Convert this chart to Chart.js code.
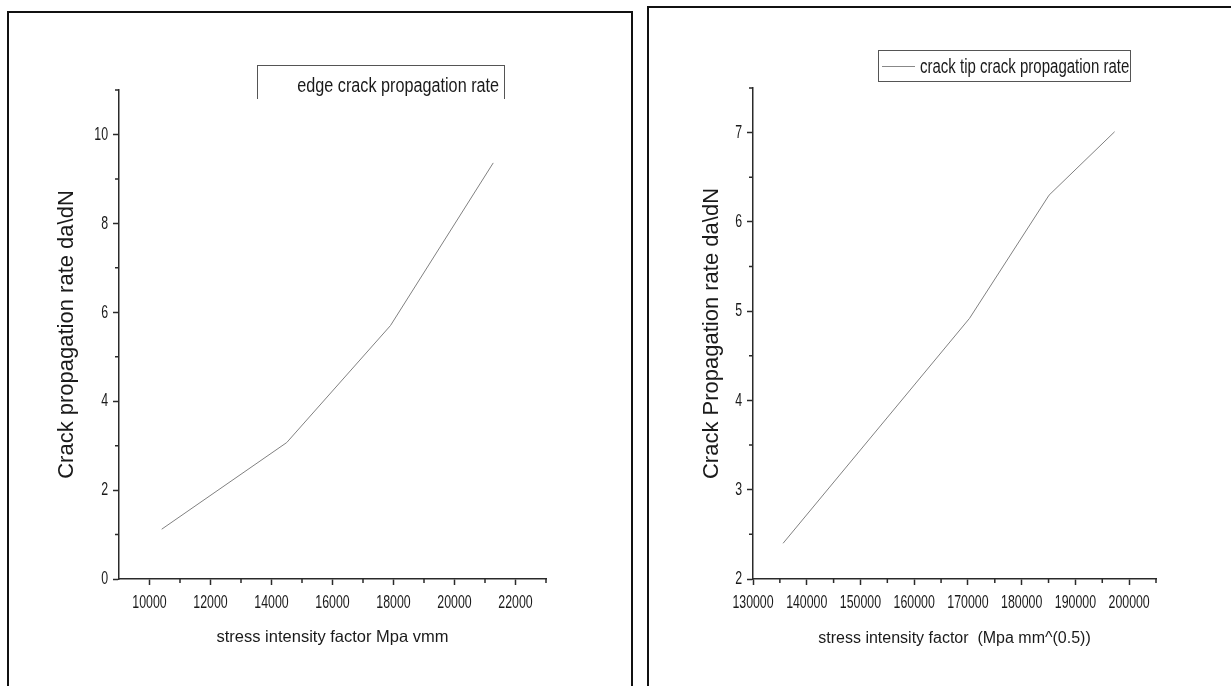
<!DOCTYPE html>
<html>
<head>
<meta charset="utf-8">
<script src="https://cdn.jsdelivr.net/npm/chart.js@4.4.1/dist/chart.umd.min.js"></script>
<style>
  html, body { margin: 0; padding: 0; background: #fff; overflow: hidden; }
  body { width: 1231px; height: 686px; position: relative; font-family: 'Liberation Sans', Arial, sans-serif; }
  .frame { position: absolute; box-sizing: border-box; border: 2px solid #111; border-bottom: none; }
  .wrap { position: absolute; top: 0; height: 686px; }
  .legend { position: absolute; box-sizing: border-box; border: 1px solid #555; color: #1a1a1a;
            font-family: 'Liberation Sans', Arial, sans-serif; font-size: 20px; white-space: nowrap; }
  .legend .sample { position: absolute; height: 0; border-top: 1px solid #888; }
  .legend .txt { position: absolute; line-height: 20px; }
</style>
</head>
<body>
<div class="frame" style="left:7px; top:11px; width:626px; height:700px;"></div>
<div class="frame" style="left:647px; top:6px; width:700px; height:700px;"></div>

<div class="wrap" style="left:0; width:640px;"><canvas id="edgeChart"></canvas></div>
<div class="wrap" style="left:640px; width:591px;"><canvas id="tipChart"></canvas></div>

<div class="legend" style="left:257px; top:65px; width:248px; height:34px; border-bottom:none;">
  <span class="txt" style="right:5px; top:9px; transform:scaleX(0.81); transform-origin:right center;">edge crack propagation rate</span>
</div>
<div class="legend" style="left:878px; top:50px; width:253px; height:32px;">
  <span class="sample" style="left:3px; width:33px; top:15px;"></span>
  <span class="txt" style="left:41px; top:5px; transform:scaleX(0.75); transform-origin:left center;">crack tip crack propagation rate</span>
</div>

<script>
// edge crack (left panel)
const edgeK = [10400, 14500, 17900, 21270];
const edgeRate = [1.12, 3.07, 5.7, 9.36];
const edgeXTicks = [10000, 12000, 14000, 16000, 18000, 20000, 22000];
const edgeXMinor = [11000, 13000, 15000, 17000, 19000, 21000, 23000];
const edgeYTicks = [0, 2, 4, 6, 8, 10];
const edgeYMinor = [1, 3, 5, 7, 9, 11];

// crack tip (right panel)
const tipK = [135600, 170300, 185100, 197300];
const tipRate = [2.40, 4.92, 6.30, 7.01];
const tipXTicks = [130000, 140000, 150000, 160000, 170000, 180000, 190000, 200000];
const tipXMinor = [135000, 145000, 155000, 165000, 175000, 185000, 195000, 205000];
const tipYTicks = [2, 3, 4, 5, 6, 7];
const tipYMinor = [2.5, 3.5, 4.5, 5.5, 6.5, 7.5];

const axisColor = '#2a2a2a';
const textColor = '#1a1a1a';
const regular = "'Liberation Sans', Arial, sans-serif";

// tick labels are drawn condensed (like the original), minor ticks short;
// both placed through the chart's own scales
function axisDecor(xs, ys) {
    return {
        id: 'axisDecor',
        afterDraw(chart) {
            const ctx = chart.ctx;
            const sx = chart.scales.x, sy = chart.scales.y;
            ctx.save();
            ctx.strokeStyle = axisColor;
            ctx.lineWidth = 1.5;
            ctx.beginPath();
            xs.forEach(v => {
                const px = sx.getPixelForValue(v);
                ctx.moveTo(px, sx.top);
                ctx.lineTo(px, sx.top + 4);
            });
            ys.forEach(v => {
                const py = sy.getPixelForValue(v);
                ctx.moveTo(sy.right, py);
                ctx.lineTo(sy.right - 4, py);
            });
            ctx.stroke();

            ctx.fillStyle = textColor;
            ctx.font = '19px ' + regular;
            ctx.textBaseline = 'middle';
            sx.ticks.forEach(t => {
                ctx.save();
                ctx.translate(sx.getPixelForValue(t.value), sx.top + 23.5);
                ctx.scale(0.65, 1);
                ctx.textAlign = 'center';
                ctx.fillText(String(t.value), 0, 0);
                ctx.restore();
            });
            sy.ticks.forEach(t => {
                ctx.save();
                ctx.translate(sy.right - 11, sy.getPixelForValue(t.value));
                ctx.scale(0.65, 1);
                ctx.textAlign = 'right';
                ctx.fillText(String(t.value), 0, 0);
                ctx.restore();
            });
            ctx.restore();
        }
    };
}

function axis(opts) {
    return {
        type: 'linear',
        position: opts.position,
        min: opts.min,
        max: opts.max,
        afterBuildTicks: s => { s.ticks = opts.ticks.map(v => ({ value: v })); },
        afterFit: s => {
            if (opts.position === 'bottom') s.height = opts.size;
            else s.width = opts.size;
        },
        grid: {
            drawOnChartArea: false,
            drawTicks: true,
            tickLength: 6,
            tickWidth: 1.5,
            tickColor: axisColor
        },
        border: { display: true, color: axisColor, width: 1.5 },
        ticks: { display: false },
        title: {
            display: true,
            text: opts.title,
            color: textColor,
            padding: 0,
            font: { family: regular, size: opts.titleSize }
        }
    };
}

function makeChart(id, xs, ys, label, cfg) {
    const ctx = document.getElementById(id).getContext('2d');
    return new Chart(ctx, {
        type: 'scatter',
        data: {
            datasets: [{
                label: label,
                data: xs.map((x, i) => ({ x: x, y: ys[i] })),
                showLine: true,
                borderColor: '#808080',
                borderWidth: 1,
                pointRadius: 0,
                fill: false
            }]
        },
        options: {
            responsive: true,
            maintainAspectRatio: false,
            animation: false,
            layout: { padding: cfg.padding },
            plugins: { legend: { display: false }, tooltip: { enabled: false } },
            scales: { x: cfg.x, y: cfg.y }
        },
        plugins: [axisDecor(cfg.xMinor, cfg.yMinor)]
    });
}

makeChart('edgeChart', edgeK, edgeRate, 'edge crack propagation rate', {
    padding: { top: 90, right: 94, left: 54, bottom: 39 },
    x: axis({ position: 'bottom', min: 9000, max: 23000, ticks: edgeXTicks, size: 68,
              title: 'stress intensity factor Mpa vmm', titleSize: 16.5 }),
    y: axis({ position: 'left', min: 0, max: 11, ticks: edgeYTicks, size: 65,
              title: 'Crack propagation rate da\\dN', titleSize: 22 }),
    xMinor: edgeXMinor,
    yMinor: edgeYMinor
});

makeChart('tipChart', tipK, tipRate, 'crack tip crack propagation rate', {
    padding: { top: 88, right: 75, left: 59, bottom: 38 },
    x: axis({ position: 'bottom', min: 130000, max: 205000, ticks: tipXTicks, size: 69,
              title: 'stress intensity factor  (Mpa mm^(0.5))', titleSize: 16 }),
    y: axis({ position: 'left', min: 2, max: 7.5, ticks: tipYTicks, size: 54,
              title: 'Crack Propagation rate da\\dN', titleSize: 22 }),
    xMinor: tipXMinor,
    yMinor: tipYMinor
});
</script>
</body>
</html>
